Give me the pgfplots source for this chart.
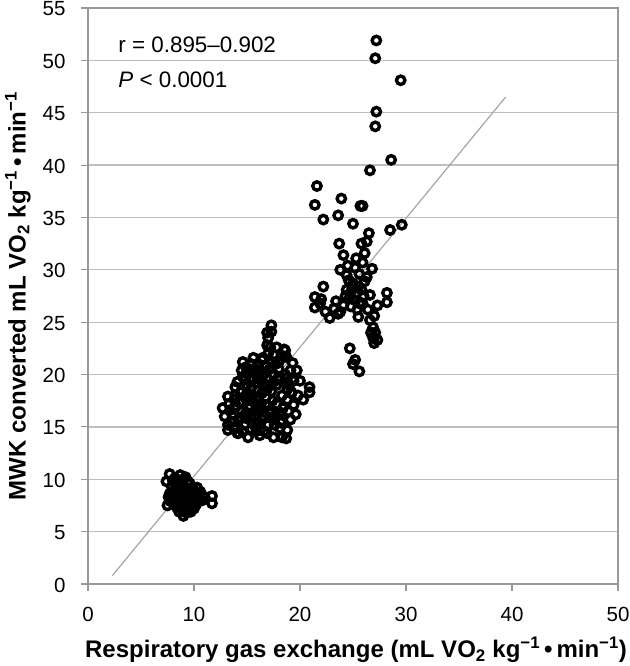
\documentclass[border=0pt]{standalone}
\usepackage{pgfplots}
\pgfplotsset{compat=1.18}
\usepackage{fontspec}
\setmainfont{Liberation Sans}
\begin{document}
\begin{tikzpicture}
\begin{axis}[
  name=ax,
  scale only axis, width=530pt, height=576pt,
  xmin=0, xmax=50, ymin=0, ymax=55,
  xtick={0,10,...,50}, ytick={0,5,...,55},
  ymajorgrids, grid style={gray!50, line width=1.2pt},
  axis line style={gray!80, line width=1.1pt},
  tick style={gray!80, line width=1.1pt},
  major tick length=7pt, tick align=outside,
  xtick pos=bottom, ytick pos=left,
  ticklabel style={font=\fontsize{20.5}{22}\selectfont},
  xticklabel style={yshift=-13pt},
  yticklabel style={xshift=-12pt, yshift=-1pt},
  /pgf/number format/assume math mode=true,
  xlabel={Respiratory gas exchange (mL VO\textsubscript{2} kg\textsuperscript{−1}\,•\,min\textsuperscript{−1})},
  ylabel={MWK converted mL VO\textsubscript{2} kg\textsuperscript{−1}\,•\,min\textsuperscript{−1}},
  label style={font=\fontsize{24}{26}\selectfont\bfseries, inner sep=0pt},
  xlabel style={at={(axis description cs:0.5,0)}, anchor=north, yshift=-53pt, xshift=3pt},
  ylabel style={at={(axis description cs:0,0.5)}, anchor=south, yshift=57pt},
]
\addplot[gray!70, line width=1.2pt] coordinates {(2.3,0.8) (39.4,46.5)};
\addplot[only marks, mark=o, mark size=4.2pt, mark options={line width=3.4pt, draw=black}] coordinates {
% low cluster
(7.7,10.5) (7.4,9.8) (8.7,10.4) (9.2,10.2) (8.0,9.9) (8.3,9.5) (8.9,9.7) (9.6,9.6)
(7.6,8.3) (7.5,7.5) (7.9,8.8) (8.2,8.1) (8.5,8.6) (8.8,8.9) (9.0,8.3) (9.3,8.6)
(9.1,7.8) (8.7,7.6) (8.4,7.3) (9.3,6.8) (9.0,6.5) (9.6,7.2) (9.8,7.9) (10.0,8.5)
(10.3,9.2) (10.6,8.8) (10.8,8.0) (10.2,7.6) (9.9,7.4) (11.7,8.4) (11.7,7.7) (9.4,9.1)
(8.6,9.2) (8.1,7.7) (9.5,8.1) (10.4,8.2) (9.2,7.3) (8.0,8.5) (7.8,7.9) (9.7,8.8)
(8.2,10.1) (8.5,9.9) (9.0,10.0) (9.4,9.8) (7.9,9.3) (8.4,8.9) (8.9,9.3) (9.9,9.1)
(10.1,8.8) (10.5,8.5) (7.7,8.6) (8.1,8.4) (8.6,8.2) (9.2,8.0) (9.7,8.3) (9.4,7.6)
(8.9,7.2) (8.6,6.9) (9.7,6.9) (10.5,7.9) (11.0,8.3) (10.0,7.2) (9.1,8.7) (8.3,7.8)
% middle cluster
(17.3,24.7) (17.3,24.1) (17.0,23.5) (16.9,22.8) (18.6,22.3) (17.5,21.9) (18.6,21.7)
(14.6,21.2) (15.6,21.6) (16.4,21.4) (19.3,21.1) (19.1,20.4) (14.5,20.4) (15.1,20.1)
(18.8,19.7) (18.1,19.5) (19.2,18.3) (20.9,18.8) (20.9,18.3) (20.3,17.6) (13.2,17.9)
(12.7,16.8) (12.9,16.0) (13.2,15.2) (14.1,14.4) (15.1,14.0) (17.5,14.0) (18.3,14.0)
(18.1,14.9) (19.1,15.7) (18.1,16.4) (17.5,15.7) (13.9,18.8) (14.8,19.5) (13.2,14.7)
(14.2,14.4) (18.8,14.7) (19.2,18.2) (18.7,21.7) (18.5,22.4)
(14.0,17.0) (14.5,16.5) (15.0,17.5) (15.5,18.0) (16.0,18.5) (16.5,19.0) (17.0,19.5)
(17.5,20.0) (18.0,20.5) (14.2,15.6) (14.8,15.2) (15.3,16.0) (15.8,16.6) (16.3,17.2)
(16.8,17.8) (17.3,18.4) (17.8,19.0) (18.3,18.0) (14.4,18.3) (15.0,19.0) (15.6,19.6)
(16.2,20.2) (16.8,20.8) (17.4,21.2) (13.6,16.2) (13.8,17.6) (15.4,14.8) (16.0,15.4)
(16.6,16.0) (17.2,16.6) (17.8,17.2) (18.4,16.8) (15.2,20.5) (16.0,21.0) (17.0,22.0)
(18.0,21.2) (18.6,20.0) (17.6,15.2) (16.6,14.6) (16.2,16.8) (15.6,17.4) (15.0,18.2)
(14.6,19.8) (16.8,19.0) (13.4,16.6) (14.0,15.0) (15.8,15.0) (17.0,15.2) (18.8,18.6)
(19.4,19.4) (18.2,15.4) (17.0,17.0) (16.0,19.6) (15.4,21.0) (17.8,22.6)
(13.5,15.5) (13.8,14.8) (14.4,15.9) (14.9,16.3) (15.3,17.0) (15.9,17.7) (16.4,18.2)
(16.9,18.6) (17.5,19.3) (18.0,19.8) (18.5,19.3) (19.0,19.0) (13.3,17.2) (13.9,18.0)
(14.3,17.3) (14.8,17.9) (15.4,18.7) (15.9,19.2) (16.5,19.9) (17.1,20.5) (17.7,21.0)
(18.3,21.8) (14.1,19.3) (14.9,20.7) (15.8,20.5) (16.5,21.6) (17.2,22.6) (16.9,24.0)
(15.9,14.6) (16.4,15.7) (17.1,15.9) (17.7,16.2) (18.3,15.6) (18.9,16.5) (19.4,17.1)
(18.8,17.6) (17.4,17.5) (16.8,17.1) (15.7,16.1) (15.0,15.8) (14.6,14.6) (16.2,14.2)
(16.9,14.4) (18.7,13.9) (19.6,16.2) (19.8,18.0) (20.0,19.4) (19.7,20.4)
% upper cluster
(27.2,51.9) (27.1,50.2) (29.5,48.1) (27.2,45.1) (27.1,43.7) (28.6,40.5) (26.6,39.5)
(29.6,34.3) (28.5,33.8) (26.5,33.5)
(21.6,38.0) (21.4,36.2) (23.9,36.8) (25.9,36.1) (25.7,36.1) (22.2,34.8) (23.6,35.2)
(25.0,34.4) (23.7,32.5) (24.1,31.4) (25.8,32.5) (26.3,32.7) (26.1,31.6)
(23.8,30.0) (24.4,29.5) (25.2,30.2) (25.9,30.7) (26.3,29.3) (22.2,28.4) (21.4,27.4)
(21.4,26.4) (21.9,26.8) (22.4,26.0) (22.8,25.4) (23.8,26.0) (24.1,26.6) (24.4,28.1)
(24.7,27.4) (25.0,28.7) (25.2,27.1) (25.4,26.2) (25.5,25.5) (25.8,28.1) (25.9,26.8)
(26.4,26.2) (26.6,25.2) (26.9,24.5) (27.1,24.0) (26.9,23.5) (27.3,23.3) (28.2,27.8)
(28.2,26.9) (24.7,22.5) (25.2,21.4) (25.0,21.0) (25.6,20.3) (24.9,28.1) (25.5,28.4)
(25.3,27.8) (24.6,29.0) (26.8,30.1) (22.0,27.2) (23.2,26.3) (26.0,27.5) (25.6,29.6)
(27.0,23.0) (26.7,24.0)
(24.3,27.5) (24.8,26.5) (25.6,26.8) (26.1,28.9) (24.5,30.4) (25.3,31.1) (23.4,27.0)
(23.6,25.8) (26.6,27.6) (27.3,26.6) (27.0,25.6)
};
\node[anchor=west, inner sep=0pt, font=\fontsize{22.4}{24}\selectfont] at (axis cs:2.85,51.5) {r = 0.895–0.902};
\node[anchor=west, inner sep=0pt, font=\fontsize{22.4}{24}\selectfont] at (axis cs:2.85,48.1) {\itshape P\upshape{} < 0.0001};
\end{axis}
\pgfresetboundingbox
\path ([shift={(-88pt,-82pt)}]ax.south west) rectangle ([shift={(11pt,8pt)}]ax.north east);
\end{tikzpicture}
\end{document}
